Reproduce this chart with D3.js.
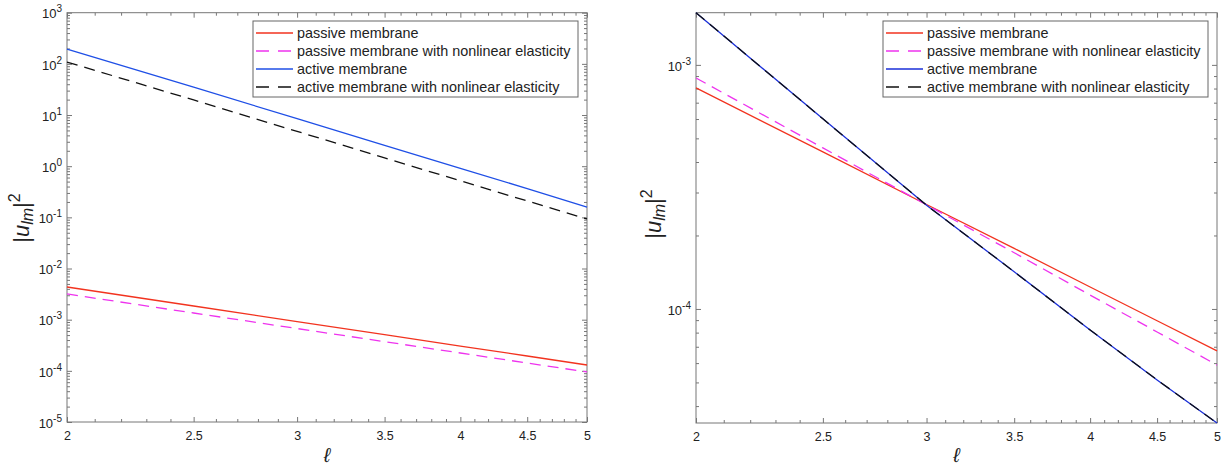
<!DOCTYPE html>
<html>
<head>
<meta charset="utf-8">
<script src="https://cdn.jsdelivr.net/npm/d3@7"></script>
<style>
  body { margin: 0; background: #fff; }
  svg text { font-family: "Liberation Sans", Arial, sans-serif; }
</style>
</head>
<body>
<div id="chart"></div>
<script>
"use strict";

// degree l at which the curves were read
const ells = [2, 2.5, 3, 3.5, 4, 4.5, 5];
const xTicks = [2, 2.5, 3, 3.5, 4, 4.5, 5];
const legendLabels = [
  "passive membrane",
  "passive membrane with nonlinear elasticity",
  "active membrane",
  "active membrane with nonlinear elasticity"
];

// left panel |u_lm|^2
const passiveLeft = [4.35e-3, 1.85e-3, 9.2e-4, 5.1e-4, 3.05e-4, 1.95e-4, 1.3e-4];
const passiveNonlinLeft = [3.18e-3, 1.35e-3, 6.71e-4, 3.72e-4, 2.23e-4, 1.42e-4, 9.5e-5];
const activeLeft = [195, 35.0, 8.47, 2.56, 0.91, 0.366, 0.159];
const activeNonlinLeft = [108.7, 19.7, 4.79, 1.45, 0.518, 0.209, 0.093];
const yTicksLeft = [1e-5, 1e-4, 1e-3, 1e-2, 1e-1, 1e0, 1e1, 1e2, 1e3];

// right panel |u_lm|^2
const passiveRight = [8.05e-4, 4.4e-4, 2.68e-4, 1.77e-4, 1.23e-4, 8.95e-5, 6.73e-5];
const passiveNonlinRight = [8.84e-4, 4.57e-4, 2.67e-4, 1.70e-4, 1.14e-4, 8.05e-5, 5.89e-5];
const activeRight = [1.636e-3, 6.01e-4, 2.66e-4, 1.42e-4, 8.2e-5, 5.12e-5, 3.41e-5];
const activeNonlinRight = [1.636e-3, 6.01e-4, 2.66e-4, 1.42e-4, 8.2e-5, 5.12e-5, 3.41e-5];
const yTicksRight = [1e-4, 1e-3];

const axisColor = "#777";
const textColor = "#222";

const svg = d3.select("#chart").append("svg")
  .attr("width", 1228)
  .attr("height", 468);

function minorLogTicks(domain) {
  let ticks = [];
  for (let e = -6; e <= 3; e++) {
    for (let k = 2; k <= 9; k++) {
      let v = k * Math.pow(10, e);
      if (v >= domain[0] && v <= domain[1]) ticks.push(v);
    }
  }
  return ticks;
}

function drawPanel(p) {
  let x = d3.scaleLog().domain([2, 5]).range([p.left, p.right]);
  let y = d3.scaleLog().domain(p.yDomain).range([p.bottom, p.top]);
  let g = svg.append("g");

  let xMinor = d3.range(21, 50).map(d => d / 10).filter(d => xTicks.indexOf(d) < 0);
  let yMinor = minorLogTicks(p.yDomain).filter(d => p.yTicks.indexOf(d) < 0);

  // Tick marks on all four sides, pointing inward
  let axes = [
    [d3.axisBottom(x), xTicks, xMinor, `translate(0,${p.bottom})`],
    [d3.axisTop(x), xTicks, xMinor, `translate(0,${p.top})`],
    [d3.axisLeft(y), p.yTicks, yMinor, `translate(${p.left},0)`],
    [d3.axisRight(y), p.yTicks, yMinor, `translate(${p.right},0)`]
  ];
  axes.forEach(function(a, i) {
    let major = g.append("g").attr("transform", a[3])
      .call(a[0].tickValues(a[1]).tickSize(-5).tickPadding(i == 0 ? 9 : 5)
        .tickFormat(i == 0 ? d3.format("") : (i == 2 ? (d => d) : "")));
    let minor = g.append("g").attr("transform", a[3])
      .call(a[0].tickValues(a[2]).tickSize(-3).tickFormat(""));
    [major, minor].forEach(function(s) {
      s.select(".domain").remove();
      s.selectAll("line").attr("stroke", axisColor);
      s.selectAll("text").attr("fill", textColor).attr("font-size", 12.5)
        .attr("font-family", "Liberation Sans, Arial, sans-serif");
    });
    // Exponent labels like 10^-3
    if (i == 2) {
      major.selectAll("text").each(function(d) {
        let t = d3.select(this);
        t.text(null).attr("dy", "0.4em").attr("font-size", 13);
        t.append("tspan").text("10");
        t.append("tspan").attr("dy", "-0.6em").attr("font-size", 10)
          .text(Math.round(Math.log10(d)));
      });
    }
  });

  // Frame
  g.append("rect")
    .attr("x", p.left).attr("y", p.top)
    .attr("width", p.right - p.left).attr("height", p.bottom - p.top)
    .attr("fill", "none").attr("stroke", axisColor).attr("stroke-width", 1);

  // Curves
  let line = d3.line().x((d, i) => x(ells[i])).y(d => y(d));
  p.series.forEach(function(s) {
    g.append("path")
      .datum(s.values)
      .attr("d", line)
      .attr("fill", "none")
      .attr("stroke", s.color)
      .attr("stroke-width", 1.3)
      .attr("stroke-dasharray", s.dash ? "11,7" : null);
  });

  // Legend
  let lg = g.append("g").attr("transform", `translate(${p.legX},21)`);
  lg.append("rect")
    .attr("width", 325).attr("height", 76)
    .attr("fill", "#fff").attr("stroke", "#666").attr("stroke-width", 1);
  p.series.forEach(function(s, i) {
    let yy = 12 + i * 18;
    lg.append("line")
      .attr("x1", 3).attr("x2", 40).attr("y1", yy).attr("y2", yy)
      .attr("stroke", s.color).attr("stroke-width", 1.3)
      .attr("stroke-dasharray", s.dash ? "13,9" : null);
    lg.append("text")
      .attr("x", 44).attr("y", yy + 5)
      .attr("font-size", 14.4).attr("fill", textColor)
      .text(legendLabels[i]);
  });

  // Axis labels
  g.append("text")
    .attr("x", (p.left + p.right) / 2).attr("y", 462)
    .attr("text-anchor", "middle")
    .attr("font-family", "DejaVu Serif, serif")
    .attr("font-style", "italic")
    .attr("font-size", 20).attr("fill", textColor)
    .text("\u2113");

  let yl = g.append("text")
    .attr("transform", `translate(${p.yLabelX},${p.yLabelY}) rotate(-90)`)
    .attr("text-anchor", "middle")
    .attr("font-family", "Liberation Serif, serif")
    .attr("font-size", 22).attr("fill", textColor);
  yl.append("tspan").text("|");
  yl.append("tspan").attr("font-style", "italic").text("u");
  yl.append("tspan").attr("font-style", "italic").attr("font-size", 16).attr("dy", 4).text("lm");
  yl.append("tspan").attr("dy", -4).text("|");
  yl.append("tspan").attr("font-size", 16).attr("dy", -9).text("2");
}

drawPanel({
  left: 67, right: 587, top: 12.7, bottom: 422,
  yDomain: [1e-5, 1e3], yTicks: yTicksLeft,
  legX: 253, yLabelX: 29, yLabelY: 218,
  series: [
    {values: passiveLeft, color: "#f2331f", dash: false},
    {values: passiveNonlinLeft, color: "#ee33ee", dash: true},
    {values: activeLeft, color: "#1f4fe6", dash: false},
    {values: activeNonlinLeft, color: "#111", dash: true}
  ]
});

drawPanel({
  left: 696, right: 1217, top: 12.7, bottom: 423,
  yDomain: d3.extent(activeRight), yTicks: yTicksRight,
  legX: 883, yLabelX: 661, yLabelY: 214,
  series: [
    {values: passiveRight, color: "#f2331f", dash: false},
    {values: passiveNonlinRight, color: "#ee33ee", dash: true},
    {values: activeRight, color: "#1a2fd8", dash: false},
    {values: activeNonlinRight, color: "#111", dash: true}
  ]
});
</script>
</body>
</html>
